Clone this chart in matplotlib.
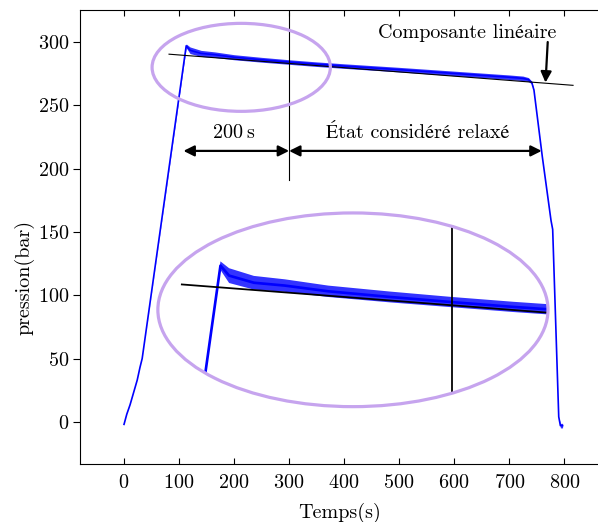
import numpy as np
import matplotlib.pyplot as plt
from matplotlib.patches import Ellipse

plt.rcParams['font.family'] = ['cmr10', 'STIXGeneral', 'DejaVu Serif']
plt.rcParams['mathtext.fontset'] = 'cm'
plt.rcParams['axes.formatter.use_mathtext'] = True
plt.rcParams['axes.unicode_minus'] = False

# courbe de pression
temps = [0, 5, 11, 18, 24, 29, 33, 113, 120, 140, 165, 200, 250, 300, 350,
         400, 450, 500, 550, 600, 650, 700, 725, 735, 741, 745, 760, 776,
         779, 790, 793, 797]
pression = [-2, 6, 13.5, 24, 33, 43, 50, 297, 293.5, 291, 290, 288, 286,
            284.2, 282.5, 281, 279.6, 278.2, 276.7, 275.2, 273.7, 272.2,
            271.3, 270.3, 268, 262, 210, 159, 152, 4, -3, -3]
# demi-largeur de la bande de bruit
bruit = [0, 0, 0, 0, 0, 0, 0, 1.5, 2.6, 2.4, 2.2, 2.0, 1.9, 1.8, 1.8,
         1.8, 1.8, 1.8, 1.8, 1.8, 1.8, 1.8, 1.8, 1.6, 1.0, 0, 0, 0,
         0, 0, 1.8, 1.8]

# composante lineaire
lin_t = [81.8, 816]
lin_p = [290.4, 265.8]

# trait vertical a t = 300 s
trait_t = 300
trait_p = [191, 323]

# loupe (spy)
zone = (213, 280, 324, 69.5)       # x, y, largeur, hauteur
loupe = (416, 88.5, 709, 153)
spy_centre = (220, 281.5)
grossissement = 2.25

bleu = '#0000ff'
violet = '#c6a4ee'
fs = 14.5

fig = plt.figure(figsize=(5.98, 5.22), dpi=100)
ax = fig.add_axes([80 / 598, 58 / 522, 520 / 598, 454 / 522])
ax.set_xlim(-80, 865)
ax.set_ylim(-33.3, 325.3)

t = np.array(temps)
p = np.array(pression)
b = np.array(bruit)


def tracer(tr_x, tr_y, k, clip=None):
    arts = []
    arts.append(ax.fill_between(tr_x(t), tr_y(p - b), tr_y(p + b),
                                color=bleu, alpha=0.8, lw=0, zorder=3))
    arts += ax.plot(tr_x(t), tr_y(p), color=bleu, lw=1.2 * k, zorder=3)
    arts += ax.plot(tr_x(np.array(lin_t)), tr_y(np.array(lin_p)),
                    color='black', lw=0.8 * k, zorder=4)
    arts += ax.plot(tr_x(np.array([trait_t, trait_t])),
                    tr_y(np.array(trait_p)), color='black', lw=0.8 * k,
                    zorder=4)
    if clip is not None:
        for a in arts:
            a.set_clip_path(clip)


# courbe principale
tracer(lambda x: x, lambda y: y, 1)

# ellipses
e1 = Ellipse(zone[:2], zone[2], zone[3], fill=False, ec=violet, lw=2.3,
             zorder=5)
e2 = Ellipse(loupe[:2], loupe[2], loupe[3], fill=False, ec=violet, lw=2.3,
             zorder=5)
ax.add_patch(e1)
ax.add_patch(e2)

# vue agrandie
g = grossissement
tracer(lambda x: loupe[0] + g * (x - spy_centre[0]),
       lambda y: loupe[1] + g * (y - spy_centre[1]), 1.6, clip=e2)

# fleches
fl = dict(arrowstyle='<|-|>', color='black', lw=1.6,
          mutation_scale=16, shrinkA=0, shrinkB=0)
ax.annotate('', xy=(108, 214), xytext=(300, 214), arrowprops=fl)
ax.annotate('', xy=(300, 214), xytext=(759, 214), arrowprops=fl)
ax.text(200, 228.5, '200\u2009s', ha='center', va='center', fontsize=fs)
ax.text(534, 228.5, 'État considéré relaxé', ha='center', va='center',
        fontsize=fs)
ax.annotate('', xy=(766, 268), xytext=(770, 300),
            arrowprops=dict(arrowstyle='-|>', color='black', lw=1.6,
                            mutation_scale=16, shrinkA=0, shrinkB=0))
ax.text(623, 307, 'Composante linéaire', ha='center', va='center',
        fontsize=fs)

ax.set_xticks(range(0, 801, 100))
ax.set_yticks(range(0, 301, 50))
ax.tick_params(axis='x', direction='in', top=True, length=4.5, pad=7,
               labelsize=fs)
ax.tick_params(axis='y', direction='out', length=5, pad=3, labelsize=fs)
ax.spines['right'].set_visible(False)
for s in ['left', 'top', 'bottom']:
    ax.spines[s].set_linewidth(0.8)

ax.set_xlabel('Temps(s)', fontsize=fs, labelpad=8)
ax.set_ylabel('pression(bar)', fontsize=fs)
ax.yaxis.set_label_coords(-0.088, 0.41)

fig.savefig('out.png', dpi=100)
